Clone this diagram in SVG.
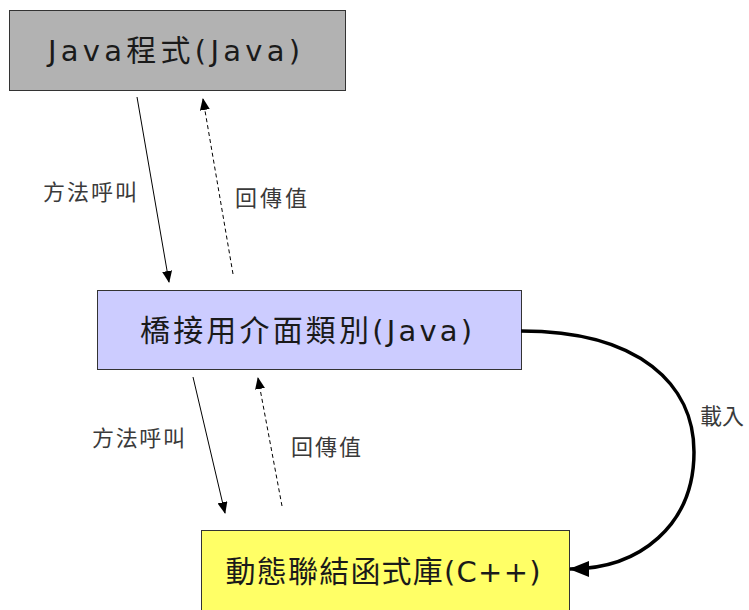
<svg xmlns="http://www.w3.org/2000/svg" width="749" height="610" viewBox="0 0 749 610">
<style>
.box{stroke:#333;stroke-width:1}
.t{font-family:"DejaVu Sans","Noto Sans CJK TC",sans-serif;font-size:29px;fill:#1a1a1a;text-anchor:middle}
.c{font-family:"Noto Sans CJK TC",sans-serif;font-size:30px}
.l{font-family:"Noto Sans CJK TC","DejaVu Sans",sans-serif;font-size:22px;fill:#3a3a3a}
.a{stroke:#000;stroke-width:1;fill:none}
.d{stroke:#000;stroke-width:1;fill:none;stroke-dasharray:4 3}
</style>
<defs>
<marker id="ah" markerUnits="userSpaceOnUse" markerWidth="12" markerHeight="10" refX="11" refY="5" orient="auto">
<path d="M0,0 L12,5 L0,10 Z" fill="#000"/>
</marker>
<marker id="ahb" markerUnits="userSpaceOnUse" markerWidth="20" markerHeight="16" refX="19" refY="8" orient="auto">
<path d="M0,0 L20,8 L0,16 Z" fill="#000"/>
</marker>
</defs>
<rect width="749" height="610" fill="#fff"/>
<g id="java">
<rect class="box" x="9.5" y="10.5" width="336" height="80" fill="#b2b2b2"/>
<text class="t" x="174" y="61" textLength="252" lengthAdjust="spacing">Java<tspan class="c">程式</tspan>(Java)</text>
</g>
<g id="bridge">
<rect class="box" x="97.5" y="290.5" width="424" height="79" fill="#ccccff"/>
<text class="t" x="306" y="341" textLength="332" lengthAdjust="spacing"><tspan class="c">橋接用介面類別</tspan>(Java)</text>
</g>
<g id="dll">
<rect class="box" x="201.5" y="530.5" width="368" height="82" fill="#ffff66"/>
<text class="t" x="383" y="582" textLength="315" lengthAdjust="spacing"><tspan class="c">動態聯結函式庫</tspan>(C++)</text>
</g>
<g id="connectors">
<line class="a" x1="137" y1="97" x2="169" y2="282" marker-end="url(#ah)"/>
<line class="d" x1="233" y1="274" x2="203" y2="99" marker-end="url(#ah)"/>
<line class="a" x1="193" y1="377" x2="225" y2="513" marker-end="url(#ah)"/>
<line class="d" x1="282" y1="506" x2="258" y2="378" marker-end="url(#ah)"/>
<path d="M521,331 C640,331 694,385 694,452 C694,525 640,569 570,569" stroke="#000" stroke-width="3.5" fill="none" marker-end="url(#ahb)"/>
<text class="l" x="43" y="200" textLength="94" lengthAdjust="spacing">方法呼叫</text>
<text class="l" x="235" y="206" textLength="72" lengthAdjust="spacing">回傳值</text>
<text class="l" x="92" y="446" textLength="93" lengthAdjust="spacing">方法呼叫</text>
<text class="l" x="291" y="455" textLength="70" lengthAdjust="spacing">回傳值</text>
<text class="l" x="700" y="424" textLength="44" lengthAdjust="spacing">載入</text>
</g>
</svg>
